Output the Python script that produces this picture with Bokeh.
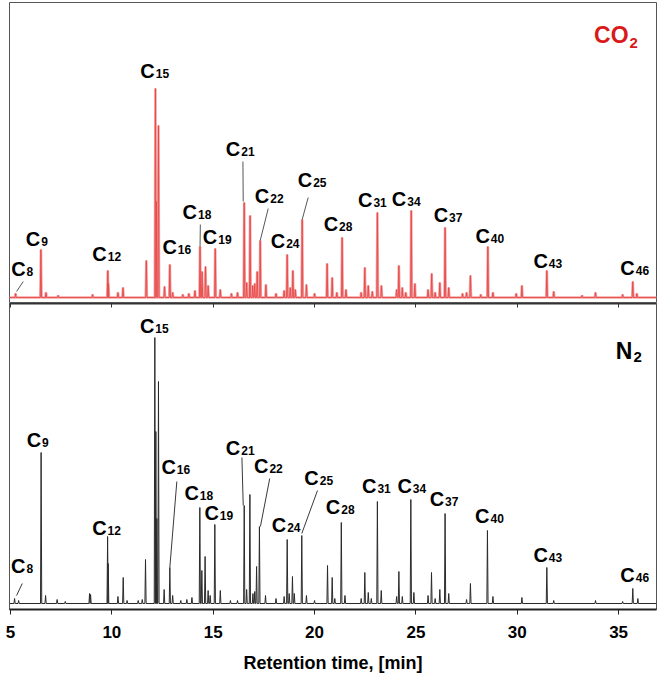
import numpy as np
from bokeh.plotting import figure
from bokeh.layouts import column
from bokeh.models import Range1d, FixedTicker, LinearAxis, ColumnDataSource
from bokeh.core.properties import value
from bokeh.embed import file_html
from bokeh.resources import INLINE

# ---------------- data (peak tables) ----------------
run_start = 4.95
run_end = 36.87

co2_rt = [5.25, 6.50, 6.75, 7.35, 9.05, 9.80, 9.83, 10.30, 10.55, 11.70,
          12.15, 12.20, 12.30, 12.60, 12.86, 13.00, 13.50, 13.80, 14.10, 14.35,
          14.45, 14.62, 14.75, 15.10, 15.35, 15.90, 16.20, 16.53, 16.65, 16.82,
          16.95, 17.05, 17.17, 17.32, 17.60, 18.10, 18.50, 18.65, 18.80, 18.93,
          19.05, 19.39, 19.60, 20.00, 20.62, 20.87, 21.10, 21.36, 21.55, 22.30,
          22.48, 22.65, 22.85, 23.10, 23.30, 24.05, 24.16, 24.33, 24.50, 24.77,
          24.95, 25.60, 25.78, 25.95, 26.18, 26.44, 26.62, 27.30, 27.50, 27.69,
          28.20, 28.55, 28.80, 29.95, 30.23, 31.46, 31.80, 33.20, 33.86, 35.20,
          35.70, 35.90]
co2_h = [4, 48, 5, 2, 3, 27, 14, 5, 10, 37,
         209, 96, 172, 11, 33, 5, 3, 4, 7, 51,
         26, 31, 12, 49, 8, 4, 5, 95, 15, 82,
         12, 14, 26, 57, 13, 4, 7, 43, 10, 27,
         8, 78, 13, 4, 34, 20, 5, 60, 8, 5,
         30, 12, 6, 85, 12, 8, 32, 10, 5, 87,
         14, 8, 24, 5, 15, 70, 10, 4, 5, 22,
         3, 51, 5, 4, 12, 27, 6, 2, 5, 3,
         16, 4]

n2_rt = [5.20, 5.40, 6.51, 6.73, 7.30, 7.70, 8.90, 8.95, 9.79, 9.82,
         10.30, 10.56, 10.75, 11.30, 11.50, 11.66, 12.12, 12.17, 12.22, 12.30,
         12.58, 12.86, 13.00, 13.40, 13.70, 13.95, 14.34, 14.44, 14.60, 14.75,
         14.85, 15.08, 15.35, 15.85, 16.20, 16.53, 16.65, 16.81, 16.96, 17.05,
         17.14, 17.28, 17.58, 18.10, 18.50, 18.65, 18.75, 18.91, 19.00, 19.37,
         19.60, 20.00, 20.64, 20.87, 21.00, 21.32, 21.50, 22.30, 22.48, 22.65,
         22.80, 23.10, 23.29, 24.05, 24.16, 24.33, 24.75, 24.90, 25.60, 25.77,
         25.95, 26.18, 26.44, 26.62, 27.50, 27.69, 28.53, 28.80, 30.23, 31.46,
         31.80, 33.86, 35.20, 35.70, 35.95]
n2_h = [5, 3, 151, 8, 4, 2, 10, 9, 67, 40,
        7, 26, 3, 3, 4, 44, 266, 172, 85, 222,
        14, 36, 8, 3, 4, 6, 96, 33, 47, 13,
        8, 79, 13, 3, 3, 98, 14, 109, 10, 12,
        37, 77, 8, 5, 7, 64, 10, 27, 10, 68,
        8, 3, 38, 26, 5, 81, 8, 5, 31, 11,
        5, 102, 13, 7, 32, 7, 104, 11, 8, 31,
        5, 14, 90, 10, 4, 20, 73, 7, 6, 36,
        3, 3, 2, 15, 5]

carbons = [8, 9, 12, 15, 16, 18, 19, 21, 22, 24, 25, 28, 31, 34, 37, 40, 43, 46]
co2_label_rt = [5.25, 6.50, 9.80, 12.15, 12.86, 14.35, 15.10, 16.53, 17.32, 18.65,
                19.39, 21.36, 23.10, 24.77, 26.44, 28.55, 31.46, 35.70]
n2_label_rt = [5.20, 6.51, 9.79, 12.12, 12.86, 14.34, 15.08, 16.53, 17.28, 18.65,
               19.37, 21.32, 23.10, 24.75, 26.44, 28.53, 31.46, 35.70]

x_ticks = [5, 10, 15, 20, 25, 30, 35]
x_title = "Retention time, [min]"

# ---------------- layout / style ----------------
FIG_W = 659
B_LEFT, B_RIGHT = 9, 3
FRAME_W = FIG_W - B_LEFT - B_RIGHT
PX_PER_RT = FRAME_W / (run_end - run_start)
FONT = value("Liberation Sans")
PEAK_HW = 0.03
LIFT = -8  # screen px correction so text baselines sit where intended

# label anchor offsets (px right, px up) of the "C" right edge / baseline from peak top
TOP_OFF = {8: (10, 17), 9: (-0.7, 3), 12: (-1, 9), 15: (-0.7, 10), 16: (7, 10),
           18: (-3, 27), 19: (2, 4), 21: (-4, 46), 22: (9, 37), 24: (-2, 6),
           25: (10, 32), 28: (-4, 6), 31: (-5, 5), 34: (-5, 4), 37: (3, 5),
           40: (2, 3), 43: (1, 2), 46: (2, 6)}
BOT_OFF = {8: (11, 25), 9: (0, 5), 12: (-1, 1), 15: (-0.5, 4), 16: (6, 93),
           18: (-1, 7), 19: (4, 4), 21: (-4, 50), 22: (9, 53), 24: (-1, 7),
           25: (17, 50), 28: (-1, 8), 31: (-1, 8), 34: (1, 6), 37: (-1, 7),
           40: (2, 7), 43: (1, 5), 46: (2, 6)}
# leader lines: (start offset from peak top), (end offset from label anchor), px
TOP_LEAD = {8: ((1, 2), (-2.3, -5)), 18: ((0, 0), (3.3, -5)), 21: ((-1, 1), (2.7, -5)),
            22: ((0, 0), (-1, -5)), 25: ((0, 0), (-4, -10))}
BOT_LEAD = {8: ((2, 3), (-3.3, -10)), 16: ((0, 0), (1, -7)), 21: ((-1, 0), (1.7, -2)),
            22: ((1, 0), (1.3, -5)), 25: ((0, 2), (-1.3, -5))}

TXT = dict(text_baseline="alphabetic", text_font=FONT, text_font_style="bold")


def build_trace(rt, h):
    order = np.argsort(rt)
    xs, ys = [run_start], [0.0]
    for i in order:
        xs += [rt[i] - PEAK_HW, rt[i], rt[i] + PEAK_HW]
        ys += [0.0, h[i], 0.0]
    xs.append(run_end)
    ys.append(0.0)
    return xs, ys


def add_labels(p, rts, heights, lab_rt, offsets, leads, lead_color):
    lookup = dict(zip(rts, heights))
    xs, ys, subs = [], [], []
    lx0, ly0, lx1, ly1 = [], [], [], []
    for c, r in zip(carbons, lab_rt):
        h = lookup[r]
        dx, dy = offsets[c]
        ax = r + dx / PX_PER_RT
        ay = h + dy
        xs.append(ax)
        ys.append(ay)
        subs.append(str(c))
        if c in leads:
            (sx, sy), (ex, ey) = leads[c]
            lx0.append(r + sx / PX_PER_RT)
            ly0.append(h + sy)
            lx1.append(ax + ex / PX_PER_RT)
            ly1.append(ay + ey)
    p.segment(x0=lx0, y0=ly0, x1=lx1, y1=ly1, line_color=lead_color, line_width=0.9)
    src = ColumnDataSource(dict(x=xs, y=ys, sub=subs))
    p.text(x="x", y="y", text=value("C"), source=src, text_align="right",
           text_font_size="20px", text_color="black", y_offset=LIFT, **TXT)
    p.text(x="x", y="y", text="sub", source=src, text_align="left",
           text_font_size="12px", text_color="black", x_offset=1, y_offset=LIFT + 3, **TXT)


# ---------------- top panel (CO2) ----------------
top = figure(width=FIG_W, height=303, x_range=Range1d(run_start, run_end),
             y_range=Range1d(-6, 295), x_axis_location=None, y_axis_location=None,
             toolbar_location=None, output_backend="svg",
             min_border_left=B_LEFT, min_border_right=B_RIGHT,
             min_border_top=2, min_border_bottom=0,
             outline_line_color="#555555", outline_line_width=1)
top.grid.visible = False
tx, ty = build_trace(co2_rt, co2_h)
top.line(tx, ty, line_color="#f4a6a6", line_width=2.6)
top.line(tx, ty, line_color="#e64848", line_width=0.9)
add_labels(top, co2_rt, co2_h, co2_label_rt, TOP_OFF, TOP_LEAD, "#444444")
top.text(x=[35.49], y=[255], text=["CO"], text_align="right",
         text_font_size="23px", text_color="#d91a1a", y_offset=LIFT, **TXT)
top.text(x=[35.49], y=[255], text=["2"], text_align="left",
         text_font_size="15px", text_color="#d91a1a", x_offset=1, y_offset=LIFT + 8, **TXT)

# ---------------- bottom panel (N2) ----------------
bot = figure(width=FIG_W, height=375, x_range=top.x_range,
             y_range=Range1d(-6, 300), x_axis_location="below", y_axis_location=None,
             toolbar_location=None, output_backend="svg",
             min_border_left=B_LEFT, min_border_right=B_RIGHT,
             min_border_top=0, min_border_bottom=69,
             outline_line_color="#555555", outline_line_width=1)
bot.grid.visible = False
bx, by = build_trace(n2_rt, n2_h)
bot.line(bx, by, line_color="#2a2a2a", line_width=1)
add_labels(bot, n2_rt, n2_h, n2_label_rt, BOT_OFF, BOT_LEAD, "#222222")
bot.text(x=[35.68], y=[245], text=["N"], text_align="right",
         text_font_size="23px", text_color="black", y_offset=LIFT, **TXT)
bot.text(x=[35.68], y=[245], text=["2"], text_align="left",
         text_font_size="15px", text_color="black", x_offset=1, y_offset=LIFT + 6, **TXT)

ax = bot.xaxis[0]
ax.ticker = FixedTicker(ticks=x_ticks)
ax.axis_label = x_title
ax.axis_label_text_font = "Liberation Sans"
ax.axis_label_text_font_style = "bold"
ax.axis_label_text_font_size = "18px"
ax.axis_label_text_color = "black"
ax.axis_label_standoff = 12
ax.major_label_text_font = "Liberation Sans"
ax.major_label_text_font_style = "bold"
ax.major_label_text_font_size = "17px"
ax.major_label_text_color = "black"
ax.major_label_standoff = 11
ax.axis_line_width = 2
ax.axis_line_color = "#222222"
ax.major_tick_out = 5
ax.major_tick_in = 0
ax.major_tick_line_color = "#222222"
ax.minor_tick_line_color = None

div_axis = LinearAxis(ticker=FixedTicker(ticks=x_ticks),
                      major_label_overrides={t: "" for t in x_ticks},
                      major_label_text_font_size="0px", major_label_standoff=0,
                      axis_line_width=2, axis_line_color="#333333",
                      major_tick_in=4, major_tick_out=0, major_tick_line_color="#333333",
                      minor_tick_line_color=None)
bot.add_layout(div_axis, "above")

layout = column(top, bot, spacing=0)
open("out.html", "w").write(file_html(layout, INLINE))
